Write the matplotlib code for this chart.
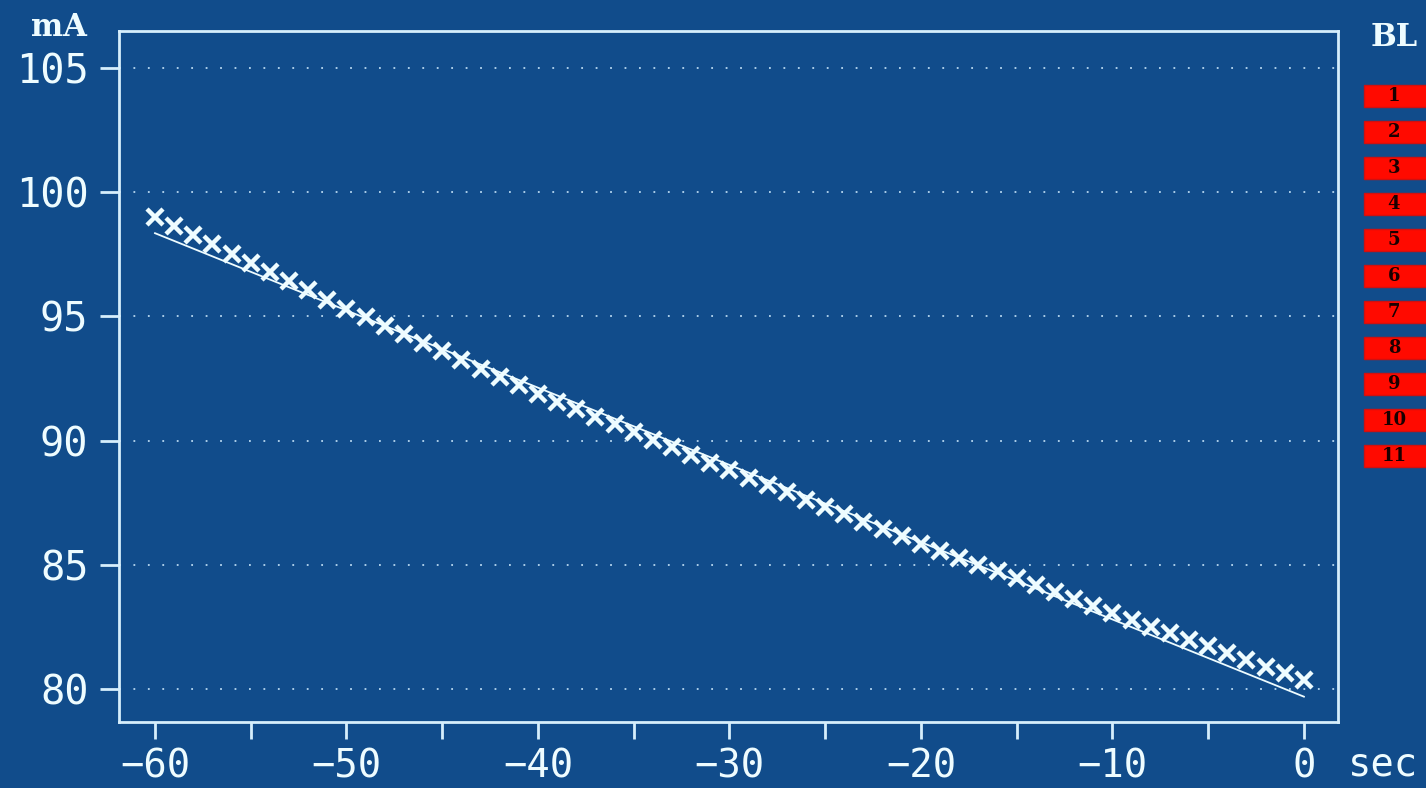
import numpy as np
import matplotlib
matplotlib.use("Agg")
import matplotlib.pyplot as plt
from matplotlib.patches import Rectangle

# ---- data ----
t_sec = list(range(-60, 1))
current_mA = [99.02, 98.65, 98.27, 97.90, 97.53, 97.16, 96.79, 96.42, 96.05, 95.67,
              95.30, 94.96, 94.62, 94.28, 93.93, 93.59, 93.25, 92.90, 92.56, 92.22,
              91.88, 91.57, 91.26, 90.95, 90.65, 90.34, 90.03, 89.73, 89.42, 89.11,
              88.80, 88.50, 88.21, 87.91, 87.62, 87.32, 87.03, 86.73, 86.44, 86.14,
              85.85, 85.57, 85.29, 85.01, 84.73, 84.45, 84.17, 83.89, 83.61, 83.33,
              83.05, 82.78, 82.51, 82.24, 81.98, 81.71, 81.44, 81.17, 80.90, 80.63,
              80.37]
fit_t = [-60, 0]
fit_mA = [98.35, 79.69]
y_ticks = [80, 85, 90, 95, 100, 105]
x_major = [-60, -50, -40, -30, -20, -10, 0]
x_minor = [-55, -45, -35, -25, -15, -5]
x_labels = ["\u221260", "\u221250", "\u221240", "\u221230", "\u221220", "\u221210", "0"]
bl_labels = [str(i) for i in range(1, 12)]

BG = "#114c8b"
FG = "#eefcff"
SPINE = "#d6eefc"

fig = plt.figure(figsize=(14.26, 7.88), dpi=100, facecolor=BG)
ax = fig.add_axes([119/1426, 1-722/788, (1338-119)/1426, (722-31)/788])
ax.set_facecolor(BG)

ax.set_xlim(-61.88, 1.78)
ax.set_ylim(78.67, 106.49)

for yv in y_ticks:
    ax.axhline(yv, color="#b8d8f0", lw=1.3, ls=(0, (1, 7)), zorder=1)

ax.plot(fit_t, fit_mA, color=FG, lw=1.3, zorder=2)
ax.plot(t_sec, current_mA, ls="none", marker="x", ms=11, mew=3.2,
        color=FG, zorder=3)

for s in ax.spines.values():
    s.set_color(SPINE)
    s.set_linewidth(2.0)

ax.set_yticks(y_ticks)
ax.set_yticklabels([str(v) for v in y_ticks])
ax.set_xticks(x_major)
ax.set_xticklabels(x_labels)
ax.set_xticks(x_minor, minor=True)
ax.tick_params(axis="y", direction="out", length=14, width=2, color=SPINE,
               labelcolor=FG, labelsize=29, pad=8)
ax.tick_params(axis="x", which="both", direction="out", length=12, width=2,
               color=SPINE, labelcolor=FG, labelsize=28, pad=6)
for lab in ax.get_xticklabels() + ax.get_yticklabels():
    lab.set_family("DejaVu Sans Mono")

fig.text(59/1426, 1-27/788, "mA", color=FG, fontsize=22, fontweight="bold",
         family="DejaVu Serif", ha="center", va="center")
fig.text(1394/1426, 1-37/788, "BL", color=FG, fontsize=22, fontweight="bold",
         family="DejaVu Serif", ha="center", va="center")
fig.text(1383/1426, 1-765/788, "sec", color=FG, fontsize=28,
         family="DejaVu Sans Mono", ha="center", va="center")

# BL status boxes
for i, lab in enumerate(bl_labels):
    yc = 96 + i * 36
    fig.patches.append(Rectangle((1364/1426, 1-(yc+11)/788), 64/1426, 22/788,
                                 transform=fig.transFigure, facecolor="#ff0a00",
                                 edgecolor="#d01010", lw=1))
    fig.text(1394/1426, 1-yc/788, lab, color="#1a0000", fontsize=13,
             fontweight="bold", family="DejaVu Serif", ha="center", va="center")

fig.savefig("out.png", dpi=100, facecolor=BG)
